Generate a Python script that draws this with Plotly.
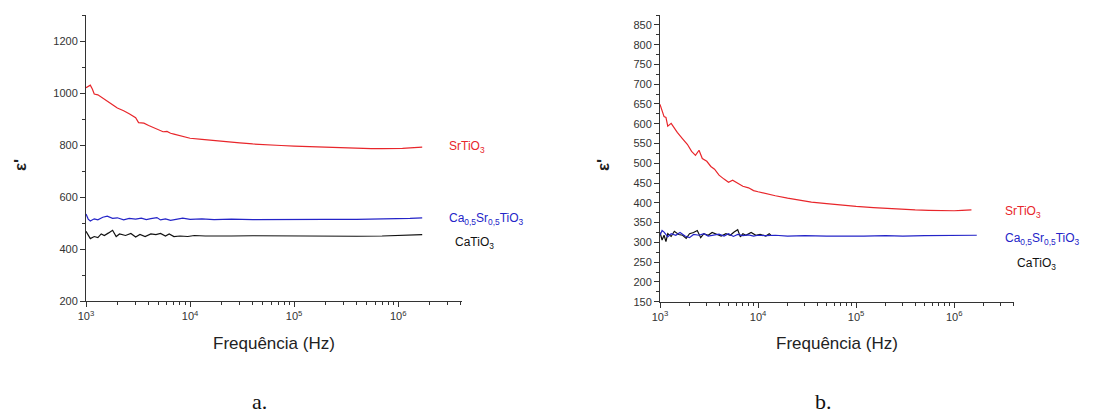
import plotly.graph_objects as go

# ---------- Panel a data ----------
a_sr_f = [1000, 1050, 1100, 1150, 1200, 1300, 1400, 1600, 1800, 2000, 2300, 2600, 3000, 3200, 3600,
          4000, 4500, 5000, 5500, 6000, 6500, 7000, 8000, 9000, 1e4, 1.3e4, 1.7e4, 2.2e4, 3e4, 4e4,
          5.5e4, 7.5e4, 1e5, 1.5e5, 2e5, 3e5, 4e5, 5.5e5, 7e5, 9e5, 1.1e6, 1.3e6, 1.5e6, 1.7e6]
a_sr_v = [1020, 1025, 1030, 1015, 996, 993, 985, 968, 955, 942, 932, 920, 905, 886, 884,
          875, 866, 858, 851, 852, 845, 842, 836, 830, 826, 822, 817, 812, 808, 804,
          800, 798, 796, 793, 791, 789, 787, 786, 786, 786, 787, 789, 790, 792]

a_ca5_f = [1000, 1050, 1100, 1200, 1300, 1450, 1600, 1800, 2000, 2300, 2600, 3000, 3400, 3800, 4200,
           4800, 5200, 5800, 6500, 7500, 8500, 1e4, 1.3e4, 1.7e4, 2.5e4, 4e4, 7e4, 1e5, 2e5, 4e5,
           7e5, 1e6, 1.3e6, 1.7e6]
a_ca5_v = [535, 515, 508, 516, 512, 522, 526, 518, 520, 512, 518, 515, 519, 513, 517,
           521, 512, 516, 510, 515, 519, 514, 516, 513, 515, 513, 514, 513, 514, 514,
           515, 516, 518, 520]

a_ca_f = [1000, 1050, 1100, 1200, 1300, 1400, 1500, 1650, 1800, 1950, 2100, 2400, 2700, 3000, 3300,
          3700, 4200, 4700, 5200, 5800, 6300, 7000, 8000, 9500, 1.1e4, 1.4e4, 1.8e4, 2.5e4, 4e4,
          7e4, 1e5, 2e5, 4e5, 7e5, 1e6, 1.3e6, 1.7e6]
a_ca_v = [468, 455, 440, 448, 444, 458, 452, 462, 472, 448, 458, 452, 460, 446, 456,
          448, 458, 455, 460, 450, 458, 448, 450, 448, 452, 450, 451, 450, 451,
          450, 451, 450, 449, 450, 451, 453, 455]

# ---------- Panel b data ----------
b_sr_f = [1000, 1050, 1100, 1150, 1200, 1300, 1400, 1500, 1700, 1900, 2100, 2300, 2500, 2700, 3000,
          3300, 3600, 4000, 4500, 5000, 5500, 6000, 7000, 8000, 9000, 1e4, 1.2e4, 1.5e4, 2e4, 2.7e4,
          3.5e4, 5e4, 7e4, 1e5, 1.5e5, 2e5, 3e5, 4e5, 5.5e5, 7.5e5, 1e6, 1.2e6, 1.5e6]
b_sr_v = [649, 632, 618, 616, 594, 601, 588, 578, 562, 548, 530, 520, 533, 512, 505,
          492, 485, 470, 460, 452, 457, 452, 442, 438, 431, 428, 423, 418, 412, 406,
          402, 398, 394, 391, 388, 386, 384, 382, 381, 380, 380, 381, 382]

b_ca5_f = [1000, 1050, 1100, 1200, 1300, 1450, 1600, 1800, 2000, 2200, 2500, 2800, 3100, 3500, 4000,
           4500, 5000, 5600, 6200, 7000, 8000, 9000, 1e4, 1.2e4, 1.5e4, 2e4, 3e4, 5e4, 8e4, 1.2e5,
           2e5, 3e5, 5e5, 8e5, 1.1e6, 1.4e6, 1.7e6]
b_ca5_v = [318, 330, 326, 314, 322, 318, 325, 316, 312, 320, 318, 322, 316, 319, 321,
           316, 322, 315, 320, 317, 319, 316, 318, 317, 318, 316, 317, 316, 317, 316,
           317, 316, 317, 317, 318, 318, 318]

b_ca_f = [1000, 1050, 1100, 1150, 1200, 1300, 1400, 1550, 1700, 1850, 2000, 2200, 2400, 2600, 2800,
          3100, 3400, 3800, 4200, 4700, 5200, 5700, 6200, 6600, 7000, 7500, 8500, 9500, 1.05e4, 1.2e4,
          1.3e4, 1.35e4]
b_ca_v = [325, 306, 318, 302, 322, 315, 328, 320, 318, 310, 322, 325, 330, 312, 322,
          318, 325, 320, 316, 322, 318, 326, 332, 314, 322, 318, 325, 318, 320, 316,
          322, 318]

# ---------- tick labels ----------
x_tickvals = [1e3, 1e4, 1e5, 1e6]
x_ticktext = ["10<sup>3</sup>", "10<sup>4</sup>", "10<sup>5</sup>", "10<sup>6</sup>"]
x_minor = [m * 10 ** e for e in range(3, 7) for m in range(2, 10)]

RED = "#e8262b"
BLUE = "#2424c8"
BLACK = "#111111"

fig = go.Figure()

def add(x, y, color, xa, ya):
    fig.add_trace(go.Scatter(x=x, y=y, mode="lines", line=dict(color=color, width=1.2),
                             xaxis=xa, yaxis=ya, showlegend=False, hoverinfo="skip"))

add(a_sr_f, a_sr_v, RED, "x", "y")
add(a_ca5_f, a_ca5_v, BLUE, "x", "y")
add(a_ca_f, a_ca_v, BLACK, "x", "y")
add(b_ca_f, b_ca_v, BLACK, "x2", "y2")
add(b_ca5_f, b_ca5_v, BLUE, "x2", "y2")
add(b_sr_f, b_sr_v, RED, "x2", "y2")

W, H = 1117, 413
tickfont = dict(family="Liberation Sans, Arial", size=11, color="#333333")

def xaxis(domain, anchor):
    return dict(domain=domain, anchor=anchor, type="log", range=[3, 6.61],
                tickmode="array", tickvals=x_tickvals, ticktext=x_ticktext,
                ticks="outside", ticklen=5, tickcolor="#333", tickwidth=1,
                showline=True, linecolor="#333", linewidth=1, showgrid=False, zeroline=False,
                tickfont=tickfont,
                minor=dict(tickmode="array", tickvals=x_minor, ticks="outside", ticklen=3,
                           tickcolor="#333", showgrid=False))

def yaxis(domain, anchor, rng, dtick, mdtick, t0):
    return dict(domain=domain, anchor=anchor, range=rng, tick0=t0, dtick=dtick,
                ticks="outside", ticklen=5, tickcolor="#333", tickwidth=1,
                showline=True, linecolor="#333", linewidth=1, showgrid=False, zeroline=False,
                tickfont=tickfont,
                minor=dict(dtick=mdtick, tick0=t0, ticks="outside", ticklen=3, tickcolor="#333",
                           showgrid=False))

fig.update_layout(
    template="none",
    width=W, height=H,
    font=dict(family="Liberation Sans, Arial", color="#333333"),
    margin=dict(l=0, r=0, t=0, b=0),
    paper_bgcolor="white", plot_bgcolor="white",
    xaxis=xaxis([86 / W, 461.7 / W], "y"),
    yaxis=yaxis([(H - 301) / H, (H - 15) / H], "x", [200, 1300], 200, 100, 200),
    xaxis2=xaxis([660 / W, 1014 / W], "y2"),
    yaxis2=yaxis([(H - 301.7) / H, (H - 15) / H], "x2", [150, 875], 50, 25, 150),
)

ann = []
def A(x, y, text, size=12, color="#222", family="Liberation Sans, Arial", angle=0, xanchor="left"):
    ann.append(dict(x=x / W, y=1 - y / H, xref="paper", yref="paper", text=text, showarrow=False,
                    font=dict(family=family, size=size, color=color), textangle=angle,
                    xanchor=xanchor, yanchor="middle"))

# panel a labels
A(447, 147, "SrTiO<sub>3</sub>", color=RED)
A(447, 219, "Ca<sub>0,5</sub>Sr<sub>0,5</sub>TiO<sub>3</sub>", color=BLUE)
A(453, 243, "CaTiO<sub>3</sub>", color=BLACK)
A(274, 343, "Frequência (Hz)", size=17, color="#222", xanchor="center")
A(21, 165, "<b>ε'</b>", size=17, color="#222", angle=-90, xanchor="center")
A(259, 401, "a.", size=22, color="#111", family="Liberation Serif, Times New Roman", xanchor="center")

# panel b labels
A(1003, 212, "SrTiO<sub>3</sub>", color=RED)
A(1003, 239, "Ca<sub>0,5</sub>Sr<sub>0,5</sub>TiO<sub>3</sub>", color=BLUE)
A(1015, 264, "CaTiO<sub>3</sub>", color=BLACK)
A(837, 343, "Frequência (Hz)", size=17, color="#222", xanchor="center")
A(604, 165, "<b>ε'</b>", size=17, color="#222", angle=-90, xanchor="center")
A(823, 401, "b.", size=22, color="#111", family="Liberation Serif, Times New Roman", xanchor="center")

fig.update_layout(annotations=ann)
fig.write_html("out.html")
